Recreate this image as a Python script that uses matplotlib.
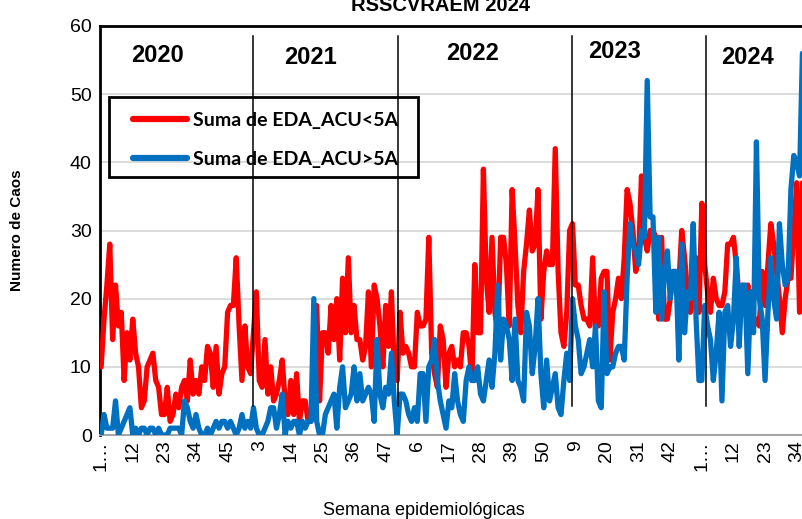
import matplotlib
matplotlib.use("Agg")
import matplotlib.pyplot as plt
from matplotlib.patches import Rectangle

# weekly counts, one list per year
years = ["2020", "2021", "2022", "2023", "2024"]
weeks_per_year = [53, 52, 52, 52, 36]

red_2020 = [10, 17, 22, 28, 14, 22, 16, 18, 8, 15, 11, 17, 12, 10, 4, 5, 10, 11, 12, 8,
            7, 3, 3, 7, 2, 3, 6, 4, 7, 8, 5, 11, 6, 8, 6, 10, 8, 13, 12, 7,
            13, 6, 9, 10, 18, 19, 19, 26, 16, 8, 16, 10, 9]
red_2021 = [15, 21, 8, 7, 14, 6, 10, 5, 6, 8, 11, 5, 3, 8, 3, 9, 2, 5, 5, 2,
            2, 3, 19, 5, 15, 15, 12, 19, 14, 20, 11, 23, 15, 26, 15, 19, 14, 14, 11, 13,
            21, 10, 22, 20, 16, 10, 19, 13, 21, 9, 8, 18]
red_2022 = [12, 13, 12, 10, 10, 18, 16, 16, 17, 29, 12, 9, 7, 16, 14, 7, 12, 13, 10, 11,
            10, 15, 15, 13, 8, 25, 15, 15, 39, 23, 18, 29, 18, 15, 29, 29, 25, 16, 36, 28,
            19, 15, 24, 28, 33, 27, 28, 36, 17, 24, 27, 25]
red_2023 = [25, 42, 24, 15, 13, 18, 30, 31, 22, 22, 19, 17, 17, 16, 26, 16, 16, 23, 24, 24,
            11, 18, 20, 23, 20, 26, 36, 34, 30, 24, 26, 38, 29, 27, 30, 30, 29, 17, 29, 17,
            17, 20, 24, 22, 22, 30, 26, 21, 18, 20, 26, 18]
red_2024 = [34, 25, 21, 18, 23, 20, 19, 19, 21, 28, 28, 29, 25, 20, 21, 18, 22, 17, 16, 17,
            16, 24, 19, 25, 31, 28, 24, 20, 15, 20, 23, 23, 30, 37, 18, 37]

blue_2020 = [0, 3, 1, 1, 1, 5, 0, 1, 2, 3, 4, 0, 1, 0, 1, 1, 0, 1, 1, 0,
             1, 0, 0, 0, 1, 1, 1, 1, 0, 5, 4, 2, 1, 3, 1, 0, 0, 1, 0, 1,
             2, 1, 2, 2, 1, 2, 1, 0, 1, 3, 1, 2, 1]
blue_2021 = [4, 1, 0, 0, 1, 2, 4, 4, 1, 3, 6, 0, 2, 1, 2, 2, 0, 2, 1, 2,
             2, 20, 2, 0, 0, 3, 4, 5, 6, 1, 7, 10, 4, 5, 6, 10, 5, 9, 5, 6,
             7, 6, 2, 14, 6, 4, 7, 6, 12, 5, 0, 6]
blue_2022 = [6, 5, 3, 2, 4, 2, 9, 9, 2, 10, 11, 14, 8, 5, 3, 1, 5, 4, 9, 5,
             3, 2, 8, 10, 8, 8, 10, 6, 5, 8, 11, 7, 12, 22, 11, 17, 16, 14, 8, 17,
             8, 7, 5, 18, 16, 9, 13, 20, 9, 4, 11, 5]
blue_2023 = [7, 9, 4, 3, 8, 12, 8, 20, 16, 14, 9, 10, 12, 14, 10, 16, 5, 4, 21, 9,
             10, 10, 12, 13, 13, 11, 23, 31, 28, 27, 25, 30, 29, 52, 32, 32, 18, 29, 17, 24,
             27, 20, 24, 24, 11, 28, 15, 21, 20, 31, 17, 8]
blue_2024 = [8, 19, 16, 14, 8, 12, 18, 5, 18, 19, 13, 17, 26, 13, 22, 22, 9, 21, 15, 43,
             20, 17, 8, 18, 26, 20, 17, 31, 25, 22, 23, 36, 41, 40, 38, 56]

under5 = red_2020 + red_2021 + red_2022 + red_2023 + red_2024
over5 = blue_2020 + blue_2021 + blue_2022 + blue_2023 + blue_2024

weeks = [w for n in weeks_per_year for w in range(1, n + 1)]
x = list(range(len(weeks)))

# hand drawn year separators and year captions (category index, value)
separators = [52.9, 103.3, 163.8, 210.5]
year_pos = [(19.5, 55.7), (72.7, 55.4), (129.3, 56.0), (178.8, 56.3), (225.0, 55.4)]

plt.rcParams['font.family'] = ['Liberation Sans', 'DejaVu Sans']

fig = plt.figure(figsize=(8.03, 5.19), dpi=100)
ax = fig.add_axes([100 / 803, 1 - 435 / 519, 1 - 100 / 803, 409 / 519])

ax.plot(x, under5, color='#FF0000', lw=3.8, solid_joinstyle='round',
        solid_capstyle='round', label='Suma de EDA_ACU<5A', zorder=3)
ax.plot(x, over5, color='#0070C0', lw=3.8, solid_joinstyle='round',
        solid_capstyle='round', label='Suma de EDA_ACU>5A', zorder=4)

for s in separators:
    ax.plot([s, s], [4.2, 58.6], color='black', lw=1.1, zorder=5)

for yr, (px, py) in zip(years, year_pos):
    ax.text(px, py, yr, fontsize=17, fontweight='bold', ha='center', va='center', zorder=6)

ax.set_xlim(-0.4, 244.2)
ax.set_ylim(0, 60)
ax.set_yticks(range(0, 61, 10))
ax.tick_params(axis='y', length=0, labelsize=14, pad=6)

ticks = list(range(0, len(weeks), 11))
labels = ['1…' if weeks[t] == 1 else str(weeks[t]) for t in ticks]
ax.set_xticks(ticks)
ax.set_xticklabels(labels, rotation=90)
ax.tick_params(axis='x', length=0, labelsize=14, pad=4)

ax.grid(axis='y', color='#d9d9d9', lw=1.3)
ax.set_axisbelow(True)

ax.spines['right'].set_visible(False)
ax.spines['top'].set_color('black')
ax.spines['top'].set_linewidth(2)
ax.spines['left'].set_color('black')
ax.spines['left'].set_linewidth(2)
ax.spines['bottom'].set_color('#a6a6a6')
ax.spines['bottom'].set_linewidth(1.5)

ax.set_ylabel('Numero de Caos', fontsize=11, fontweight='bold')
ax.yaxis.set_label_coords(-0.108, 0.5)
ax.set_xlabel('Semana epidemiológicas', fontsize=13)
ax.xaxis.set_label_coords(0.46, -0.163)

# legend box drawn as its own rectangle, entries placed inside it
ax.add_patch(Rectangle((0.0128, 0.6308), 0.4395, 0.1956, transform=ax.transAxes,
                       fill=False, edgecolor='black', lw=2, zorder=7))
leg = ax.legend(loc='upper left', bbox_to_anchor=(0.047, 0.79), frameon=False,
                prop={'family': 'Lato', 'weight': 'bold', 'size': 14},
                handlelength=2.8, handletextpad=0.26, labelspacing=1.15,
                borderpad=0, borderaxespad=0)
for h in leg.get_lines():
    h.set_linewidth(4.5)

fig.text(441 / 803, 1 - 11 / 519, 'RSSCVRAEM 2024', fontsize=14.5, fontweight='bold',
         ha='center', va='baseline')

fig.savefig('out.png', dpi=100)
